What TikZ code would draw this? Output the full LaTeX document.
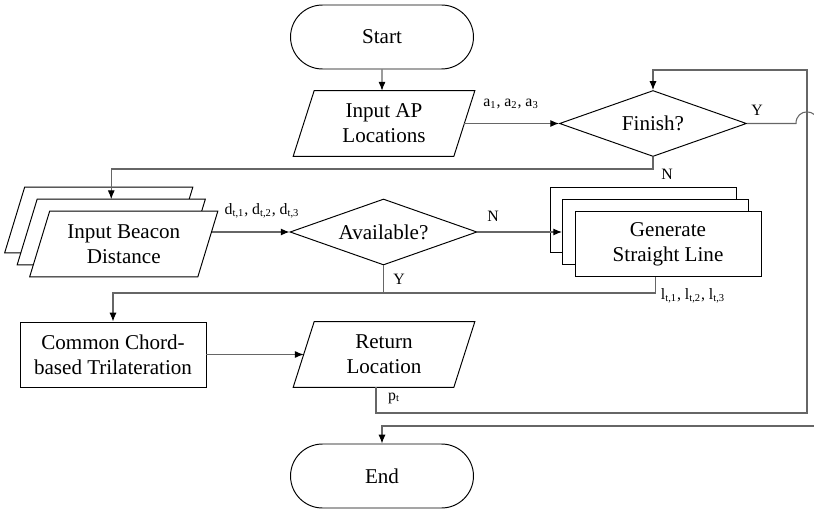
\documentclass[tikz,border=0pt]{standalone}
\usepackage{fontspec}
\setmainfont{Liberation Serif}
\usetikzlibrary{arrows.meta,shapes.geometric,shapes.misc}
\pgfdeclarelayer{fg}
\pgfsetlayers{main,fg}
\newcommand\paranode[5]{%
  \node[minimum width=#3, minimum height=1.3cm, inner sep=0pt] (#1) at #2 {};
  \draw[box] ([xshift=#4]#1.north west) -- ([xshift=#4]#1.north east) -- ([xshift=-#4]#1.south east) -- ([xshift=-#4]#1.south west) -- cycle;
  \node[txt] (#1-t) at (#1) {#5};
}
\begin{document}
\begin{tikzpicture}[x=0.02cm,y=-0.02cm,
  box/.style={draw=black, line width=0.55pt, fill=white},
  txt/.style={align=center, font=\fontsize{12}{14.2}\selectfont, inner sep=0pt},
  lbl/.style={font=\fontsize{9}{10}\selectfont, inner sep=0pt},
  term/.style={box, rounded rectangle, minimum width=3.66cm, minimum height=1.28cm, txt},
  proc/.style={box, rectangle, minimum width=3.72cm, minimum height=1.3cm, txt},
  dec/.style={box, diamond, aspect=2.83, minimum width=3.74cm, minimum height=1.32cm, txt},
  conn/.style={draw=black!60, line width=0.6pt, -{Latex[length=5pt,width=4pt,color=black]}},
  line/.style={draw=black!60, line width=0.6pt},
]
\useasboundingbox (0,0) rectangle (814,513);
\clip (0,0) rectangle (814,513);

% nodes
\node[term] (start) at (382,37) {Start};
\paranode{ap}{(384,123.5)}{3.2cm}{0.21cm}{Input AP\\Locations}
\node[dec] (finish) at (653,123.5) {Finish?};

\paranode{bback}{(98.75,220)}{3.35cm}{0.2cm}{}
\paranode{bmid}{(111.25,232)}{3.35cm}{0.2cm}{}
\node[proc] (gback) at (643,220) {};
\node[proc] (gmid) at (655.5,232) {};
\begin{pgfonlayer}{fg}
\paranode{bfront}{(123.75,244)}{3.35cm}{0.2cm}{Input Beacon\\Distance}
\node[proc] (gfront) at (668,244) {Generate\\Straight Line};
\end{pgfonlayer}

\node[dec] (avail) at (383.5,232) {Available?};
\node[proc] (common) at (113,354.5) {Common Chord-\\based Trilateration};
\paranode{ret}{(384,354.5)}{3.2cm}{0.21cm}{Return\\Location}
\node[term] (end) at (382,476) {End};

% connectors
\draw[conn] (start) -- (start |- ap.north);
\draw[conn] (ap) -- (finish);
\draw[conn] (finish.south) -- ++(0,12) -| (bmid.north);
\draw[conn] (bmid.east) -- (avail.west);
\draw[conn] (avail.east) -- (gmid.west);
\coordinate (j) at (383.5,293);
\draw[conn] (avail.south) -- (j) -| (common.north);
\draw[line] (gmid.south) |- (j);
\draw[conn] (common.east) -- (ret.west);
\coordinate (rb) at (807,413);
\coordinate (rt) at (807,70);
\draw[conn] ([xshift=-0.16cm]ret.south) |- (rb) -- (rt) -| (finish.north);
\coordinate (hopa) at (796,123.5);
\coordinate (hopb) at (818,123.5);
\coordinate (yout) at (830,123.5);
\draw[line] (finish.east) -- (hopa) .. controls (796,108) and (818,108) .. (hopb) -- (yout);
\coordinate (ein) at (830,426);
\draw[conn] (ein) -| (end.north);

% labels
\node[lbl] (la) at (511,104) {a\textsubscript{1}, a\textsubscript{2}, a\textsubscript{3}};
\node[lbl] (ly1) at (757,110) {Y};
\node[lbl] (ln1) at (667,174) {N};
\node[lbl] (ld) at (262,211) {d\textsubscript{t,1}, d\textsubscript{t,2}, d\textsubscript{t,3}};
\node[lbl] (ln2) at (493,216) {N};
\node[lbl] (ly2) at (399,279) {Y};
\node[lbl] (ll) at (693,296) {l\textsubscript{t,1}, l\textsubscript{t,2}, l\textsubscript{t,3}};
\node[lbl] (lp) at (394,398) {p\textsubscript{t}};
\end{tikzpicture}
\end{document}
